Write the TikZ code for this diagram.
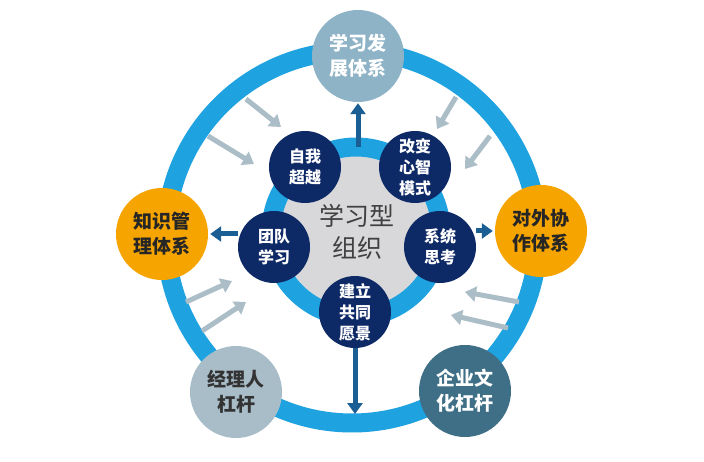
\documentclass[tikz,border=0pt]{standalone}
\usepackage{fontspec}
\setmainfont{Noto Sans CJK SC}
\usetikzlibrary{arrows.meta}
\definecolor{ringblue}{HTML}{1FA3E0}
\definecolor{navy}{HTML}{0E2A66}
\definecolor{darkarrow}{HTML}{1A5E94}
\definecolor{grayarrow}{HTML}{ABBDC7}
\definecolor{diskgray}{HTML}{D8D8DA}
\definecolor{topblue}{HTML}{8EB2C6}
\definecolor{orangec}{HTML}{F6A400}
\definecolor{lightgb}{HTML}{A9BDC9}
\definecolor{tealc}{HTML}{3E6F86}
\tikzset{
  outercirc/.style={circle, minimum size=92pt, inner sep=0pt, align=center, font=\bfseries\fontsize{19}{25}\selectfont},
  navycirc/.style={circle, fill=navy, minimum size=72pt, inner sep=0pt, align=center, text=white, font=\bfseries\fontsize{16}{21}\selectfont},
  grayarr/.style={draw=grayarrow, line width=5pt, -{Triangle[width=15pt,length=11pt]}},
  darkarr/.style={draw=darkarrow, line width=5pt, -{Triangle[width=15pt,length=11pt]}},
}
\begin{document}
\begin{tikzpicture}[x=1pt,y=-1pt]
\useasboundingbox (0,0) rectangle (704,462);
\fill[white] (0,0) rectangle (704,462);
% outer ring
\draw[ringblue, line width=19pt] (352,237) circle (186);
% gray arrows
\coordinate (tl1s) at (246,99); \coordinate (tl1e) at (281,127);
\coordinate (tl2s) at (208,136); \coordinate (tl2e) at (254,164);
\coordinate (tr1s) at (456,97);  \coordinate (tr1e) at (437,129);
\coordinate (tr2s) at (490,136); \coordinate (tr2e) at (465,169);
\coordinate (bl1s) at (186,302); \coordinate (bl1e) at (232,281);
\coordinate (bl2s) at (202,331); \coordinate (bl2e) at (246,302);
\coordinate (br1s) at (519,302); \coordinate (br1e) at (465,292);
\coordinate (br2s) at (508,328); \coordinate (br2e) at (451,315);
\draw[grayarr] (tl1s) -- (tl1e);
\draw[grayarr] (tl2s) -- (tl2e);
\draw[grayarr] (tr1s) -- (tr1e);
\draw[grayarr] (tr2s) -- (tr2e);
\draw[grayarr] (bl1s) -- (bl1e);
\draw[grayarr] (bl2s) -- (bl2e);
\draw[grayarr] (br1s) -- (br1e);
\draw[grayarr] (br2s) -- (br2e);
% inner disk
\node[circle, fill=diskgray, draw=ringblue, line width=19pt, minimum size=170pt, inner sep=0pt] (inner) at (356,232) {};
\node[font=\fontsize{25}{32}\selectfont, text=black!75, align=center] (title) at (357,232) {学习型\\组织};
% outer circles
\node[outercirc, fill=topblue, text=white] (top) at (358,56) {学习发\\展体系};
\node[outercirc, fill=orangec, text=black!85] (left) at (162,234) {知识管\\理体系};
\node[outercirc, fill=orangec, text=black!85] (right) at (541,231) {对外协\\作体系};
\node[outercirc, fill=lightgb, text=black!80] (bl) at (236,392) {经理人\\杠杆};
\node[outercirc, fill=tealc, text=white] (br) at (465,391) {企业文\\化杠杆};
% navy circles
\node[navycirc] (self) at (305,167) {自我\\超越};
\node[navycirc] (mind) at (415,167) {改变\\心智\\模式};
\node[navycirc] (team) at (274,247) {团队\\学习};
\node[navycirc] (sys) at (440,247) {系统\\思考};
\node[navycirc] (vision) at (355,312) {建立\\共同\\愿景};
% dark arrows
\coordinate (downend) at (355,414);
\draw[darkarr, shorten <=-10pt, shorten >=1pt] (top.south |- inner.north) -- (top.south);
\draw[darkarr] (left.east -| team.west) -- ([xshift=2pt]left.east);
\draw[darkarr] (right.west -| sys.east) -- ([xshift=-2pt]right.west);
\draw[darkarr] (vision.south) -- (downend);
\end{tikzpicture}
\end{document}
